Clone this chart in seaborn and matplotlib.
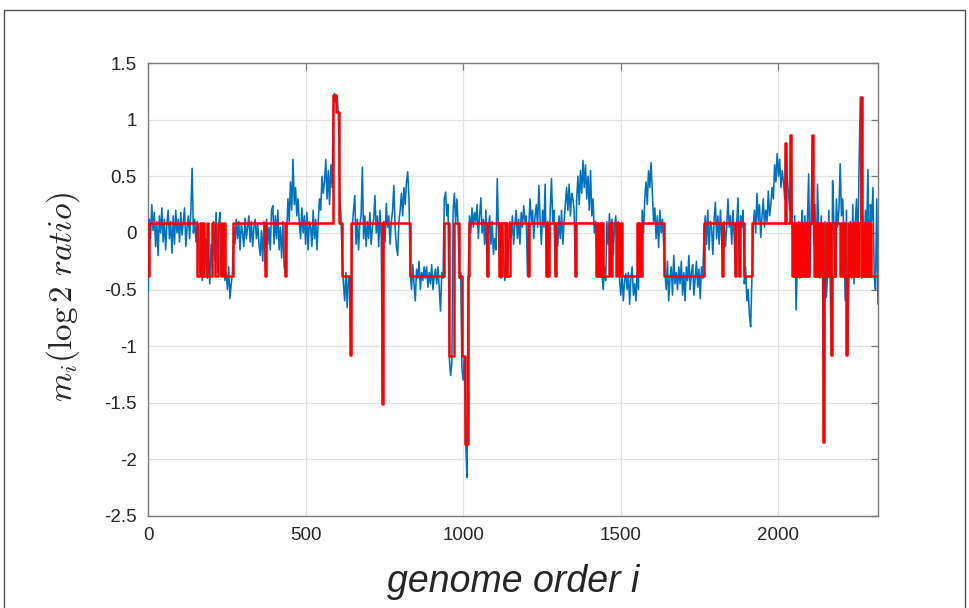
import numpy as np
import matplotlib
matplotlib.use("Agg")
import matplotlib.pyplot as plt
import seaborn as sns
from matplotlib.patches import Rectangle

# log2 ratio per probe, one value every STEP positions along the genome
STEP = 4
blue_values = [
    -0.52, 0.12, -0.05, 0.25, 0.02, 0.18, -0.12, 0.1, -0.2, 0.15, 0.0, 0.22, -0.08, 0.12, -0.15, 0.08, 0.2, -0.05, 0.1, -0.18,
    0.15, -0.1, 0.2, 0.0, 0.12, -0.08, 0.18, -0.02, 0.1, 0.22, -0.12, 0.05, 0.15, -0.05, 0.2, 0.57, 0.0, 0.12, -0.08, 0.1,
    0.05, -0.35, -0.15, -0.42, -0.2, -0.3, -0.05, -0.4, -0.22, -0.45, -0.1, -0.3, 0.1, -0.25, 0.18, -0.35, 0.05, 0.18, -0.38, -0.1,
    -0.25, -0.42, -0.35, -0.5, -0.3, -0.58, -0.45, -0.35, 0.05, -0.1, 0.12, -0.05, 0.1, -0.15, 0.08, 0.0, -0.12, 0.13, -0.05, 0.05,
    0.15, -0.08, 0.1, -0.12, 0.05, 0.12, -0.05, 0.08, -0.1, -0.2, 0.02, -0.25, 0.1, -0.3, 0.12, -0.1, 0.05, -0.15, 0.2, 0.24,
    -0.1, 0.15, -0.05, 0.2, -0.15, 0.05, -0.22, 0.1, -0.3, -0.35, 0.0, 0.3, 0.1, 0.45, 0.2, 0.65, 0.25, 0.4, 0.15, 0.3,
    0.1, -0.05, 0.22, 0.0, 0.15, -0.1, 0.18, -0.15, 0.1, 0.05, -0.12, 0.2, -0.05, 0.12, -0.15, 0.1, 0.3, 0.2, 0.5, 0.35,
    0.45, 0.65, 0.3, 0.55, 0.25, 0.6, 0.4, 1.1, 1.23, 1.15, 1.2, 1.05, 0.35, 0.15, -0.2, -0.45, -0.6, -0.35, -0.66, -0.4,
    -0.45, -1.08, 0.05, 0.2, 0.33, -0.1, 0.12, -0.15, 0.08, 0.15, 0.58, -0.05, 0.15, -0.12, 0.1, -0.05, 0.18, -0.1, 0.05, 0.12,
    0.33, 0.0, 0.15, -0.12, 0.2, -0.05, -1.5, 0.1, -0.08, 0.26, 0.05, 0.15, -0.1, 0.1, 0.2, 0.42, 0.05, -0.12, -0.2, 0.1,
    0.2, 0.35, 0.15, 0.4, 0.25, 0.45, 0.54, 0.3, -0.35, -0.5, -0.28, -0.45, -0.6, -0.32, -0.4, -0.25, -0.5, -0.35, -0.42, -0.3,
    -0.4, -0.3, -0.48, -0.35, -0.45, -0.28, -0.5, -0.38, -0.32, -0.45, -0.3, -0.5, -0.69, -0.35, -0.4, 0.3, 0.36, 0.15, 0.25, -1.1,
    -1.26, -1.15, 0.2, 0.35, 0.1, 0.3, 0.05, -0.4, -0.35, -1.2, -1.3, -1.1, -1.86, -2.16, -0.4, 0.15, 0.0, 0.22, 0.05, 0.18,
    0.1, 0.25, -0.05, 0.15, 0.31, 0.0, 0.12, -0.1, 0.2, -0.38, 0.05, 0.15, -0.1, 0.1, -0.19, -0.05, -0.15, 0.48, 0.0, -0.35,
    -0.4, 0.05, -0.2, -0.42, -0.3, -0.38, -0.15, 0.1, -0.05, 0.15, -0.1, 0.08, 0.2, -0.05, 0.12, -0.1, 0.18, 0.05, 0.24, 0.1,
    0.15, -0.38, 0.05, 0.3, 0.1, 0.2, -0.05, 0.15, 0.25, 0.05, 0.42, 0.12, -0.1, 0.2, 0.05, 0.43, -0.38, 0.1, -0.35, 0.2,
    0.48, 0.1, 0.2, -0.38, 0.05, -0.12, 0.15, -0.05, 0.2, -0.1, 0.1, 0.25, 0.4, 0.2, 0.43, 0.15, 0.35, 0.3, 0.2, -0.38,
    0.3, 0.5, 0.25, 0.55, 0.35, 0.64, 0.4, 0.6, 0.3, 0.5, 0.2, 0.55, 0.15, 0.3, 0.0, 0.1, -0.2, -0.05, -0.3, 0.05,
    -0.35, -0.5, -0.3, -0.42, 0.1, -0.1, 0.17, -0.05, 0.12, -0.19, 0.05, 0.15, -0.1, 0.1, -0.4, -0.55, -0.38, -0.6, -0.42, -0.36,
    -0.5, -0.35, -0.63, -0.4, -0.3, -0.55, -0.45, -0.6, -0.35, -0.5, 0.05, -0.3, 0.2, 0.0, 0.3, 0.45, 0.25, 0.55, 0.4, 0.62,
    0.35, 0.1, 0.22, -0.05, 0.15, -0.13, 0.2, 0.0, 0.12, -0.1, -0.35, -0.5, -0.25, -0.6, -0.4, -0.3, -0.55, -0.2, -0.45, -0.35,
    -0.5, -0.3, -0.45, -0.25, -0.55, -0.35, -0.6, -0.3, -0.42, -0.2, -0.5, -0.35, -0.28, -0.55, -0.4, -0.25, -0.48, -0.32, -0.58, -0.3,
    -0.4, 0.0, 0.15, -0.1, 0.2, -0.15, 0.1, 0.05, -0.19, 0.12, 0.27, -0.05, 0.15, -0.1, 0.2, -0.05, -0.38, 0.1, -0.12, 0.05,
    0.3, 0.05, 0.15, -0.1, 0.2, -0.05, -0.38, 0.1, 0.31, -0.38, 0.15, 0.05, 0.2, -0.45, -0.3, -0.6, -0.5, -0.72, -0.83, -0.4,
    0.05, 0.2, 0.0, 0.35, 0.1, 0.25, -0.04, 0.15, 0.3, 0.05, 0.2, 0.1, 0.37, 0.15, 0.25, 0.4, 0.3, 0.6, 0.45, 0.7,
    0.5, 0.65, 0.4, 0.55, 0.45, 0.3, 0.79, 0.5, 0.35, 0.2, 0.86, 0.1, -0.38, 0.15, -0.68, -0.3, 0.1, -0.4, 0.05, 0.2,
    -0.38, 0.15, -0.2, 0.1, 0.52, -0.38, 0.2, 0.86, -0.1, 0.25, -0.38, 0.43, 0.0, -0.4, 0.15, -0.3, -1.85, 0.1, -0.57, -0.38,
    0.2, -0.38, -1.08, 0.46, 0.1, -0.3, 0.3, 0.05, 0.2, 0.61, 0.15, 0.3, -0.05, -0.6, 0.2, -1.08, -0.38, 0.1, -0.4, 0.25,
    -0.45, 0.1, 0.3, -0.2, 0.61, 1.2, -0.4, 0.15, -0.3, 0.2, 0.0, 0.56, -0.35, 0.25, 0.1, 0.4, -0.38, -0.5, 0.3, -0.63,
]

# piecewise-constant segmentation: (first genome position, segment level)
HI, LO = 0.09, -0.38
red_steps = [
    (0, LO), (2, HI), (154, LO), (165, HI), (170, LO), (174, HI), (178, LO), (186, HI),
    (190, LO), (202, HI), (214, LO), (221, HI), (231, LO), (239, HI), (244, LO), (270, HI),
    (371, LO), (375, HI), (434, LO), (438, HI), (587, 1.22), (598, 1.07), (605, HI),
    (614, LO), (641, -1.08), (645, HI), (741, -1.51), (745, HI), (830, LO), (940, HI),
    (955, -1.09), (970, HI), (986, LO), (996, -1.09), (1006, -1.86), (1014, LO), (1018, HI),
    (1075, LO), (1078, HI), (1113, LO), (1117, HI), (1119, LO), (1124, HI), (1133, LO),
    (1137, HI), (1140, LO), (1149, HI), (1205, LO), (1208, HI), (1262, LO), (1266, HI),
    (1268, LO), (1273, HI), (1290, LO), (1293, HI), (1355, LO), (1358, HI),
    (1421, LO), (1425, HI), (1429, LO), (1433, HI), (1437, LO), (1441, HI), (1445, LO),
    (1461, HI), (1470, LO), (1472, HI), (1485, LO), (1487, HI), (1495, LO), (1500, HI),
    (1504, LO), (1550, HI), (1553, LO), (1558, HI), (1562, LO), (1566, HI), (1638, LO),
    (1765, HI), (1822, LO), (1825, HI), (1863, LO), (1866, HI), (1874, LO), (1877, HI),
    (1891, LO), (1917, HI), (2022, 0.79), (2025, HI), (2038, 0.86), (2041, HI),
    (2044, LO), (2048, HI), (2051, LO), (2055, HI), (2058, LO), (2062, HI), (2065, LO),
    (2069, HI), (2072, LO), (2076, HI), (2079, LO), (2083, HI), (2086, LO), (2090, HI),
    (2093, LO), (2097, HI), (2106, 0.86), (2109, HI), (2112, LO), (2116, HI), (2119, LO),
    (2123, HI), (2126, LO), (2130, HI), (2133, LO), (2137, HI), (2140, LO), (2143, -1.85),
    (2146, LO), (2150, HI), (2153, LO), (2157, HI), (2160, LO), (2164, HI), (2166, LO),
    (2168, -1.08), (2171, LO), (2175, HI), (2178, LO), (2181, HI), (2197, LO), (2201, HI),
    (2204, LO), (2208, HI), (2211, LO), (2215, -1.08), (2218, LO), (2222, HI), (2225, LO),
    (2229, HI), (2232, LO), (2236, HI), (2239, LO), (2243, HI), (2246, LO), (2250, HI),
    (2253, LO), (2256, HI), (2261, 1.2), (2264, HI), (2266, LO), (2270, HI), (2273, LO),
    (2277, HI), (2280, LO), (2284, HI), (2287, LO), (2291, HI), (2294, LO),
]
GENOME_END = 2316

x_ticks = [0, 500, 1000, 1500, 2000]
x_tick_labels = ["0", "500", "1000", "1500", "2000"]
y_ticks = [-2.5, -2, -1.5, -1, -0.5, 0, 0.5, 1, 1.5]
y_tick_labels = ["-2.5", "-2", "-1.5", "-1", "-0.5", "0", "0.5", "1", "1.5"]

sns.set_theme(style="whitegrid")
plt.rcParams["font.family"] = ["Liberation Sans", "DejaVu Sans"]
plt.rcParams["mathtext.fontset"] = "cm"

W, H = 970, 608
fig = plt.figure(figsize=(W / 100, H / 100), dpi=100)
fig.patch.set_facecolor("white")
ax = fig.add_axes([148 / W, 1 - 516 / H, (878 - 148) / W, (516 - 63) / H])
ax.set_facecolor("white")

genome = np.arange(len(blue_values)) * STEP
sns.lineplot(x=genome, y=blue_values, ax=ax, color="#0072BD", linewidth=1.15,
             estimator=None, sort=False, zorder=3)

red_x = [s for s, _ in red_steps] + [GENOME_END]
red_y = [v for _, v in red_steps] + [red_steps[-1][1]]
sns.lineplot(x=red_x, y=red_y, ax=ax, color="#FF0000", linewidth=1.8,
             drawstyle="steps-post", estimator=None, sort=False, zorder=4)

ax.set_xlim(0, GENOME_END)
ax.set_ylim(-2.5, 1.5)
ax.set_xticks(x_ticks)
ax.set_xticklabels(x_tick_labels)
ax.set_yticks(y_ticks)
ax.set_yticklabels(y_tick_labels)
ax.grid(True, color="#E2E2E2", linewidth=0.9)
ax.set_axisbelow(True)
for sp in ax.spines.values():
    sp.set_visible(True)
    sp.set_color("#7A7A7A")
    sp.set_linewidth(1.0)
ax.tick_params(axis="both", direction="in", length=5, width=0.9, color="#7A7A7A",
               top=True, right=True, labelsize=13.5, labelcolor="#262626", pad=8)

ax.set_xlabel("genome order i", fontsize=27, fontstyle="italic", color="#262626")
ax.xaxis.set_label_coords(0.5, -0.105)
ax.set_ylabel(r"$m_i(\log 2\ ratio)$", fontsize=24, color="#262626")
ax.yaxis.set_label_coords(-0.09, 0.483)

fig.add_artist(Rectangle((4 / W, -0.05), (965 - 4) / W, (H - 10) / H + 0.05,
                         transform=fig.transFigure, fill=False,
                         edgecolor="#505050", linewidth=1.0))

fig.savefig("out.png", dpi=100, facecolor="white")
